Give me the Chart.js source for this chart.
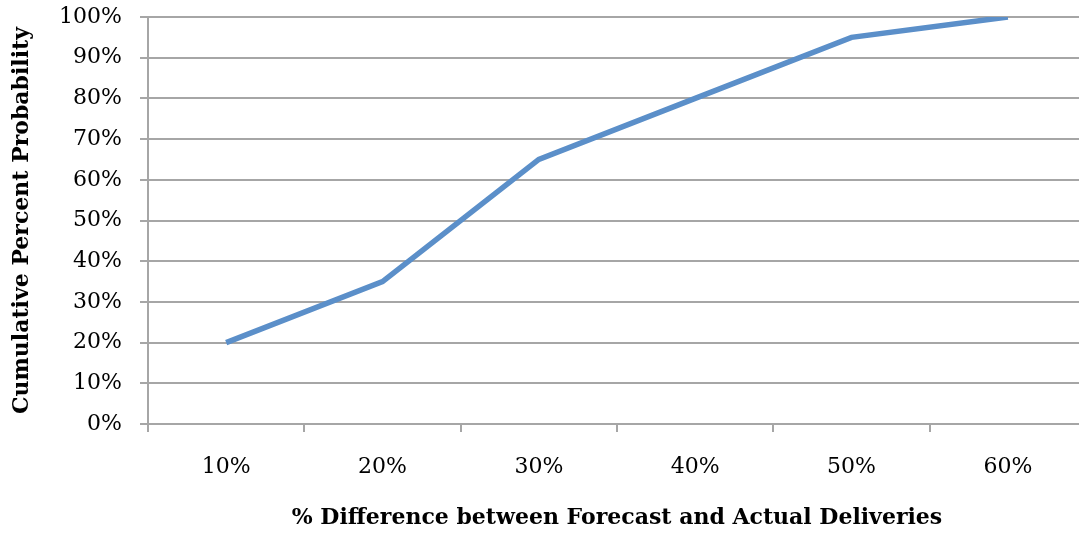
<!DOCTYPE html>
<html>
<head>
<meta charset="utf-8">
<script src="https://cdn.jsdelivr.net/npm/chart.js@4"></script>
<style>
html,body{margin:0;padding:0;overflow:hidden;background:#fff;}
#wrap{width:1090px;height:533px;}
</style>
</head>
<body>
<div id="wrap"><canvas id="c" width="1090" height="533"></canvas></div>
<script>
const categories = ['10%','20%','30%','40%','50%','60%'];
const cumulativeProbability = [20, 35, 65, 80, 95, 100];
const xTitle = '% Difference between Forecast and Actual Deliveries';
const yTitle = 'Cumulative Percent Probability';

const serif = "'DejaVu Serif', serif";
const gridColor = '#a6a6a6';

new Chart(document.getElementById('c'), {
  type: 'line',
  data: {
    labels: categories,
    datasets: [{
      data: cumulativeProbability,
      borderColor: '#5b8fc9',
      borderWidth: 5.5,
      pointRadius: 0,
      tension: 0,
      fill: false,
      borderCapStyle: 'butt',
      borderJoinStyle: 'miter'
    }]
  },
  options: {
    responsive: false,
    animation: false,
    layout: { padding: { left: 0, right: 4, top: 17, bottom: 0 } },
    plugins: { legend: { display: false }, tooltip: { enabled: false } },
    scales: {
      x: {
        type: 'category',
        offset: true,
        grid: { offset: true, drawOnChartArea: false, drawTicks: true, tickLength: 8, color: gridColor, lineWidth: 2 },
        border: { color: gridColor, width: 2 },
        ticks: { color: '#000', padding: 22, font: { family: serif, size: 22 }, maxRotation: 0 },
        title: { display: true, text: xTitle, color: '#000', padding: { top: 0, bottom: 2 }, font: { family: serif, size: 22, weight: 'bold' } },
        afterFit: s => { s.height = 109; s.paddingLeft = 0; s.paddingRight = 0; }
      },
      y: {
        min: 0, max: 100,
        grid: { color: gridColor, lineWidth: 2, tickLength: 8 },
        border: { color: gridColor, width: 2 },
        ticks: { stepSize: 10, color: '#000', padding: 18, font: { family: serif, size: 22 }, callback: v => v + '%' },
        title: { display: true, text: yTitle, color: '#000', padding: { top: 9, bottom: 0 }, font: { family: serif, size: 22, weight: 'bold' } },
        afterFit: s => { s.width = 148; s.paddingTop = 0; s.paddingBottom = 0; }
      }
    }
  }
});
</script>
</body>
</html>
